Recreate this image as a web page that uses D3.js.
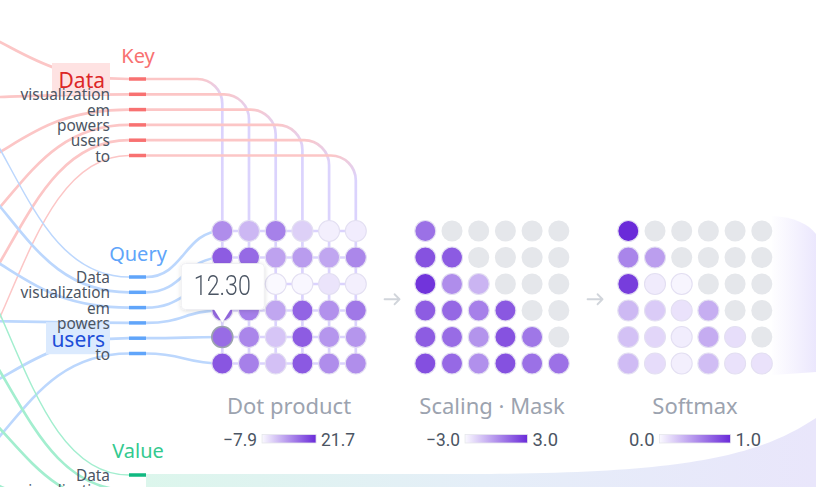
<!DOCTYPE html>
<html lang="en">
<head>
<meta charset="utf-8">
<title>Attention: dot product, scaling and softmax</title>
<script src="https://d3js.org/d3.v7.min.js"></script>
<style>
  body { margin: 0; background: #fff; }
  svg { display: block; font-family: "Noto Sans", "Open Sans", sans-serif; }
  .num { font-family: Roboto, "Noto Sans", sans-serif; }
</style>
</head>
<body>
<script>
// tokens of the sentence
const tokens = ["Data", "visualization", "em", "powers", "users", "to"];

// attention matrices, rows = query token, cols = key token (null = masked)
const dotProduct = [
  [7.6, 1.6, 9.3, -2.0, -6.4, -6.1],
  [14.6, 12.6, 4.5, 5.4, 4.0, 8.4],
  [21.7, 1.0, -7.9, -7.6, -4.9, -6.4],
  [12.4, 9.6, 4.0, 13.4, 7.0, 10.5],
  [12.3, 8.6, -0.5, 14.6, 6.2, 6.3],
  [15.4, 9.4, 0.2, 15.0, 7.6, 7.4]
];
const scaledMasked = [
  [0.95, null, null, null, null, null],
  [1.83, 1.58, null, null, null, null],
  [2.71, 0.13, -0.99, null, null, null],
  [1.55, 1.20, 0.50, 1.68, null, null],
  [1.54, 1.08, -0.06, 1.83, 0.78, null],
  [1.93, 1.18, 0.03, 1.88, 0.95, 0.93]
];
const softmaxVals = [
  [1.00, null, null, null, null, null],
  [0.56, 0.44, null, null, null, null],
  [0.91, 0.07, 0.02, null, null, null],
  [0.31, 0.22, 0.11, 0.36, null, null],
  [0.27, 0.17, 0.06, 0.37, 0.13, null],
  [0.30, 0.14, 0.05, 0.29, 0.11, 0.11]
];

const matrixTitles = ["Dot product", "Scaling · Mask", "Softmax"];
const legendMin = ["−7.9", "−3.0", "0.0"];
const legendMax = ["21.7", "3.0", "1.0"];
const colorDomains = [[-7.9, 21.7], [-3, 3], [0, 1]];

const hoverQuery = 4;   // "users"
const hoverKey = 0;     // "Data"
const tooltipText = "12.30";

// ---------- layout ----------
const width = 816, height = 487;
const r = 10.5;
const colStep = 26.7;
const gridLeft = [222.3, 425.3, 628.3];
const idx = d3.range(tokens.length);

const rowY = d3.scalePoint().domain(idx).range([231, 363.5]);
const colX = gridLeft.map(x0 => d3.scalePoint().domain(idx).range([x0, x0 + 5 * colStep]));
const keyY = d3.scalePoint().domain(idx).range([79, 155.5]);
const queryY = d3.scalePoint().domain(idx).range([277, 353.5]);
const valueY = d3.scalePoint().domain(idx).range([475, 551]);

// where the incoming lines start (off the left edge)
const srcX = -110;
const keySrc = d3.scaleLinear().domain([0, 5]).range([15, 435]);
const querySrc = d3.scaleLinear().domain([0, 5]).range([56, 496]);
const valueSrc = d3.scaleLinear().domain([0, 5]).range([197, 637]);

const tickX0 = 129, tickX1 = 146, labelX = 110;

const C = {
  keyTitle: "#f87171", keyTick: "#f87171", keyLine: "#fcc6c6",
  qTitle: "#60a5fa", qTick: "#60a5fa", qLine: "#bcd7fd",
  vTitle: "#34c98f", vTick: "#10b981", vLine: "#a3eecf",
  grid: "#dbd3fd", label: "#4b5563", title: "#9ca3af",
  masked: "#e5e7eb", low: "#faf9ff", high: "#6a2ad9"
};

const svg = d3.select("body").append("svg")
  .attr("width", width).attr("height", height);

const defs = svg.append("defs");

// gradients
const bandGrad = defs.append("linearGradient").attr("id", "bandGrad")
  .attr("gradientUnits", "userSpaceOnUse")
  .attr("x1", 146).attr("x2", width).attr("y1", 0).attr("y2", 0);
bandGrad.append("stop").attr("offset", 0).attr("stop-color", "#dcf6ec");
bandGrad.append("stop").attr("offset", 0.5).attr("stop-color", "#e5eef8");
bandGrad.append("stop").attr("offset", 1).attr("stop-color", "#e9e6fb");

const ribbonGrad = defs.append("linearGradient").attr("id", "ribbonGrad")
  .attr("gradientUnits", "userSpaceOnUse")
  .attr("x1", 770).attr("x2", width).attr("y1", 0).attr("y2", 0);
ribbonGrad.append("stop").attr("offset", 0).attr("stop-color", "#ede9fe").attr("stop-opacity", 0);
ribbonGrad.append("stop").attr("offset", 1).attr("stop-color", "#ebe7fd");

const legendGrad = defs.append("linearGradient").attr("id", "legendGrad");
legendGrad.append("stop").attr("offset", 0).attr("stop-color", C.low);
legendGrad.append("stop").attr("offset", 1).attr("stop-color", C.high);

const shadow = defs.append("filter").attr("id", "shadow")
  .attr("x", -0.3).attr("y", -0.3).attr("width", 1.6).attr("height", 1.6);
shadow.append("feDropShadow").attr("dx", 0).attr("dy", 1)
  .attr("stdDeviation", 2).attr("flood-color", "#000").attr("flood-opacity", 0.14);

// ---------- background flows ----------
svg.append("path")
  .attr("d", `M${tickX1},474 H470 C690,474 760,455 ${width},418 V${height} H${tickX1} Z`)
  .attr("fill", "url(#bandGrad)");

const gEnd = gridLeft[2] + 5 * colStep + r;
svg.append("path")
  .attr("d", `M${gEnd},216 C${gEnd + 22},217 ${gEnd + 36},224 ${width},234 V372 C${gEnd + 30},373 ${gEnd + 15},374 ${gEnd},375 Z`)
  .attr("fill", "url(#ribbonGrad)");

// ---------- incoming lines ----------
const link = d3.linkHorizontal();
const incoming = svg.append("g").attr("fill", "none");
function drawIncoming(src, dst, color) {
  incoming.selectAll(null)
    .data(idx)
    .enter().append("path")
    .attr("d", i => link({ source: [srcX, src(i)], target: [tickX0, dst(i)] }))
    .attr("stroke", color)
    .attr("stroke-width", i => Math.abs(src(i) - dst(i)) > 215 ? 1.5 : 2.7);
}
drawIncoming(keySrc, keyY, C.keyLine);
drawIncoming(querySrc, queryY, C.qLine);
drawIncoming(valueSrc, valueY, C.vLine);

// ---------- key -> columns ----------
const corner = 25;
const keyLinks = svg.append("g").attr("fill", "none").attr("stroke-width", 2.7);
idx.forEach(j => {
  const cx = colX[0](j), ky = keyY(j);
  const gid = "kg" + j;
  const g = defs.append("linearGradient").attr("id", gid)
    .attr("gradientUnits", "userSpaceOnUse")
    .attr("x1", cx - corner).attr("y1", ky).attr("x2", cx).attr("y2", ky + corner);
  g.append("stop").attr("offset", 0).attr("stop-color", C.keyLine);
  g.append("stop").attr("offset", 1).attr("stop-color", C.grid);
  keyLinks.append("path")
    .attr("d", `M${tickX1},${ky} H${cx - corner} A${corner},${corner} 0 0 1 ${cx},${ky + corner} V${rowY(5)}`)
    .attr("stroke", `url(#${gid})`);
});

// ---------- query -> rows ----------
const qLinks = svg.append("g").attr("fill", "none").attr("stroke-width", 2.7);
qLinks.selectAll(".row")
  .data(idx).enter().append("path")
  .attr("d", i => `M${colX[0](0)},${rowY(i)} H${colX[0](5)}`)
  .attr("stroke", C.grid);
qLinks.selectAll(".q")
  .data(idx).enter().append("path")
  .attr("d", i => link({ source: [tickX1, queryY(i)], target: [colX[0](0), rowY(i)] }))
  .attr("stroke", C.qLine);

// ---------- ticks ----------
function drawTicks(scale, color) {
  svg.append("g").selectAll("line")
    .data(idx).enter().append("line")
    .attr("x1", tickX0).attr("x2", tickX1)
    .attr("y1", i => scale(i)).attr("y2", i => scale(i))
    .attr("stroke", color).attr("stroke-width", 3.5);
}
drawTicks(keyY, C.keyTick);
drawTicks(queryY, C.qTick);
drawTicks(valueY, C.vTick);

// ---------- labels ----------
function drawLabels(scale, hi, hiColor, hiBg, hiBox) {
  const g = svg.append("g");
  if (hi != null) {
    g.append("rect")
      .attr("x", hiBox[0]).attr("y", scale(hi) - hiBox[1])
      .attr("width", labelX - hiBox[0]).attr("height", 32)
      .attr("fill", hiBg);
  }
  g.selectAll("text")
    .data(idx).enter().append("text")
    .attr("text-anchor", "end")
    .attr("x", i => i === hi ? labelX - 5 : labelX)
    .attr("y", i => scale(i) + (i === hi ? 9 : 6))
    .attr("font-size", i => i === hi ? 21 : 15.4)
    .attr("fill", i => i === hi ? hiColor : C.label)
    .text(i => tokens[i]);
}
drawLabels(keyY, hoverKey, "#dc2626", "#fee2e2", [52, 16]);
drawLabels(queryY, hoverQuery, "#1d4ed8", "#dbeafe", [46, 16]);
drawLabels(valueY, null);

const sectionTitles = [["Key", keyY(0) - 16, C.keyTitle], ["Query", queryY(0) - 16.5, C.qTitle], ["Value", valueY(0) - 17, C.vTitle]];
svg.append("g").selectAll("text")
  .data(sectionTitles).enter().append("text")
  .attr("x", 138).attr("y", d => d[1])
  .attr("text-anchor", "middle").attr("font-size", 20)
  .attr("fill", d => d[2]).text(d => d[0]);

// ---------- matrices ----------
const matrices = [dotProduct, scaledMasked, softmaxVals];
matrices.forEach((m, g) => {
  const color = d3.scaleLinear().domain(colorDomains[g]).range([C.low, C.high]).clamp(true);
  const cells = [];
  m.forEach((row, i) => row.forEach((v, j) => cells.push({ i, j, v })));
  svg.append("g").selectAll("circle")
    .data(cells).enter().append("circle")
    .attr("cx", d => colX[g](d.j))
    .attr("cy", d => rowY(d.i))
    .attr("r", r)
    .attr("fill", d => d.v == null ? C.masked : color(d.v))
    .attr("stroke", d => (g === 0 && d.i === hoverQuery && d.j === hoverKey) ? "#9ca3af" : (d.v == null ? "none" : "#e3dff2"))
    .attr("stroke-width", d => (g === 0 && d.i === hoverQuery && d.j === hoverKey) ? 1.6 : 1.1);

  const cxMid = (colX[g](0) + colX[g](5)) / 2;
  svg.append("text")
    .attr("x", cxMid).attr("y", 414)
    .attr("text-anchor", "middle").attr("font-size", 22)
    .attr("fill", C.title).text(matrixTitles[g]);

  // legend: min label, colour bar, max label
  const total = 132, gap = 5, cw = 8.5;
  const x0 = cxMid - total / 2;
  const wMin = legendMin[g].length * cw, wMax = legendMax[g].length * cw;
  const leg = svg.append("g").attr("class", "num").attr("font-size", 18.5).attr("fill", C.label);
  leg.append("text").attr("x", x0).attr("y", 445.5)
    .attr("textLength", wMin).attr("lengthAdjust", "spacingAndGlyphs").text(legendMin[g]);
  leg.append("rect")
    .attr("x", x0 + wMin + gap).attr("y", 434.5)
    .attr("width", total - wMin - wMax - 2 * gap).attr("height", 8.5)
    .attr("fill", "url(#legendGrad)").attr("stroke", "#e5e7eb").attr("stroke-width", 0.8);
  leg.append("text").attr("x", x0 + total - wMax).attr("y", 445.5)
    .attr("textLength", wMax).attr("lengthAdjust", "spacingAndGlyphs").text(legendMax[g]);

  // arrow to next matrix
  if (g < 2) {
    const ax = (colX[g](5) + colX[g + 1](0)) / 2 + 2;
    const ay = (rowY(2) + rowY(3)) / 2 + 2;
    svg.append("path")
      .attr("d", `M${ax - 8},${ay} H${ax + 7} M${ax + 2},${ay - 5} L${ax + 7},${ay} L${ax + 2},${ay + 5}`)
      .attr("fill", "none").attr("stroke", "#d1d5db").attr("stroke-width", 1.8)
      .attr("stroke-linecap", "round").attr("stroke-linejoin", "round");
  }
});

// ---------- tooltip ----------
const tx = colX[0](hoverKey), tipY = rowY(hoverQuery) - r - 4;
const tip = svg.append("g").attr("filter", "url(#shadow)");
tip.append("rect")
  .attr("x", tx - 41).attr("y", tipY - 59)
  .attr("width", 83).attr("height", 46).attr("rx", 4)
  .attr("fill", "#fff").attr("stroke", "#ececf0").attr("stroke-width", 0.8);
tip.append("path")
  .attr("d", `M${tx - 8.5},${tipY - 13.5} L${tx},${tipY} L${tx + 8.5},${tipY - 13.5} Z`)
  .attr("fill", "#fff");
tip.append("text")
  .attr("class", "num")
  .attr("x", tx - 28.5).attr("y", tipY - 27.5)
  .attr("font-size", 28).attr("font-weight", 300).attr("fill", C.label)
  .attr("textLength", 57).attr("lengthAdjust", "spacingAndGlyphs")
  .text(tooltipText);
</script>
</body>
</html>
